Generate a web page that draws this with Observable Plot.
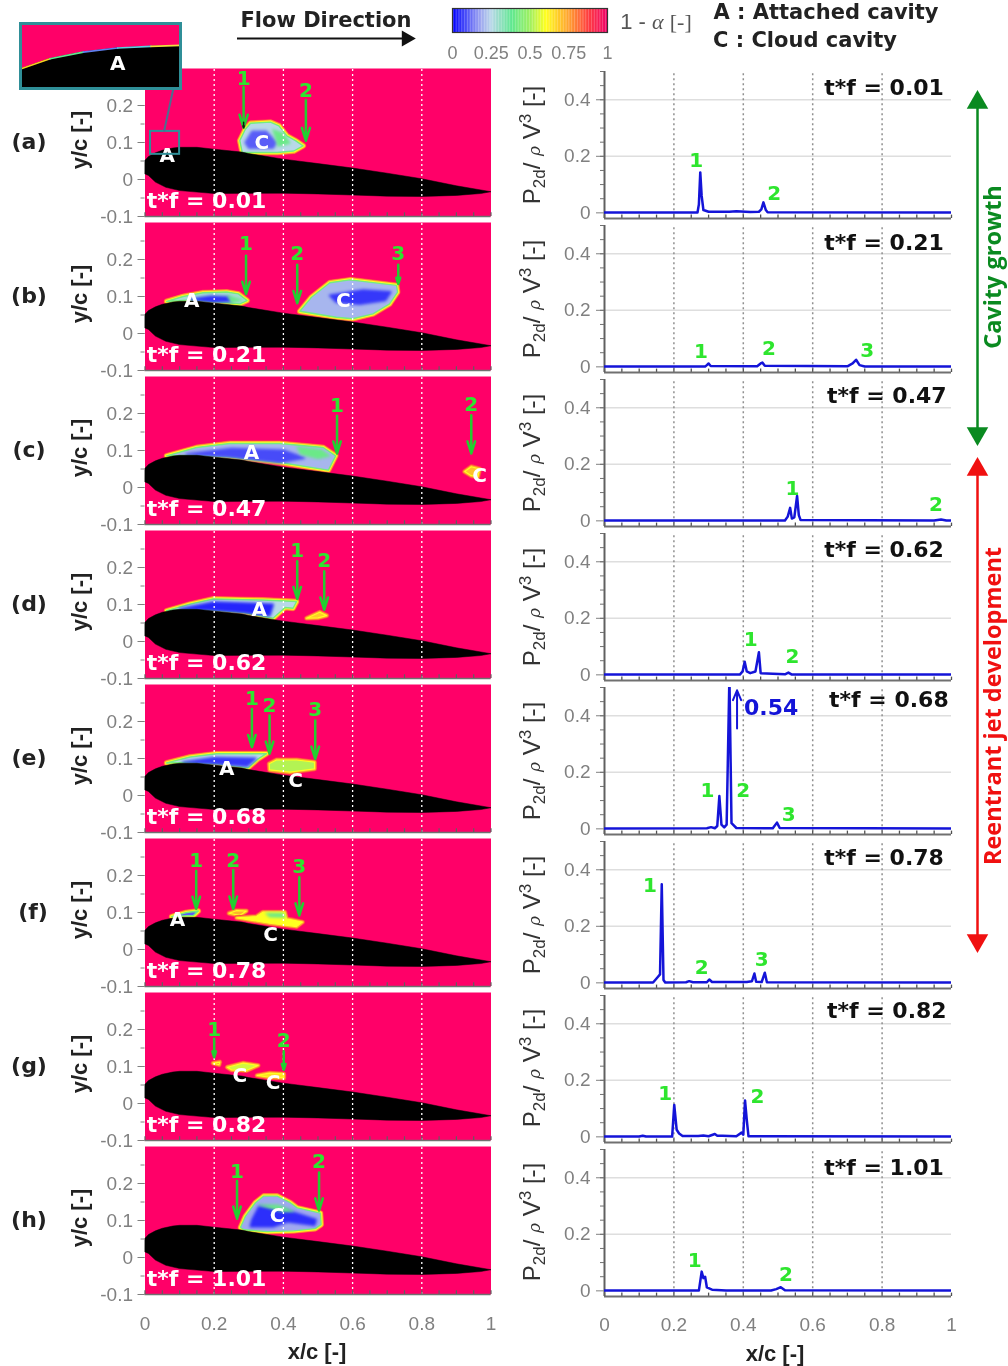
<!DOCTYPE html>
<html><head><meta charset="utf-8">
<script src="https://cdn.jsdelivr.net/npm/d3@7"></script>
<script src="https://cdn.jsdelivr.net/npm/@observablehq/plot@0.6"></script>
<style>
html,body{margin:0;padding:0;background:#fff}
#page{position:relative;width:1008px;height:1366px;overflow:hidden;background:#fff;filter:blur(.35px)}
#page svg{position:absolute;background:transparent;overflow:visible}
.t{position:absolute;white-space:nowrap;line-height:1}
</style></head><body><div id="page"></div>
<script>
const panelIds=["(a)","(b)","(c)","(d)","(e)","(f)","(g)","(h)"];
const timeLabels=["t*f = 0.01","t*f = 0.21","t*f = 0.47","t*f = 0.62","t*f = 0.68","t*f = 0.78","t*f = 0.82","t*f = 1.01"];
const xTicks=[0,.2,.4,.6,.8,1];
const alphaStops=[0,.18,.25,.38,.5,.6,.75,.87,1];
const alphaColors=["#0000ff","#a0a8f0","#b8d8e8","#60e890","#a0f060","#ffff20","#ffa030","#ff4040","#f00068"];

const airfoil=[[0,.052],[.01,.062],[.03,.072],[.05,.079],[.08,.085],[.1,.087],[.15,.087],[.2,.082],[.28,.074],[.3,.07],[.4,.055],[.5,.043],[.6,.031],[.7,.017],[.8,.002],[.9,-.017],[1,-.033],[.97,-.038],[.9,-.043],[.8,-.046],[.7,-.045],[.6,-.042],[.5,-.039],[.4,-.037],[.2,-.038],[.1,-.03],[.06,-.021],[.03,-.007],[.01,.011],[0,.015]];

const cavCa=[[.274,.105],[.29,.136],[.305,.152],[.3625,.155],[.387,.145],[.41,.118],[.435,.105],[.457,.091],[.43,.077],[.382,.073],[.281,.073]];
const coreCa=[[.29,.1],[.31,.13],[.35,.13],[.38,.1],[.37,.085],[.3,.085]];
const cavAb=[[.0625,.0865],[.11,.1],[.168,.11],[.236,.112],[.27,.107],[.295,.089],[.274,.08],[.197,.0865],[.13,.091]];
const coreAb=[[.13,.092],[.19,.1],[.24,.098],[.25,.088],[.197,.086]];
const cavCb=[[.4475,.06],[.481,.098],[.534,.137],[.592,.145],[.727,.13],[.73,.112],[.707,.08],[.659,.053],[.6,.04],[.553,.044]];
const coreCb=[[.534,.103],[.63,.117],[.71,.112],[.695,.09],[.62,.08],[.553,.085]];
const cavAc=[[.0625,.0856],[.149,.108],[.245,.119],[.39,.119],[.515,.108],[.551,.0856],[.53,.047],[.39,.0676],[.245,.083],[.149,.087]];
const coreAc=[[.12,.09],[.25,.105],[.4,.1],[.46,.08],[.39,.068],[.245,.083]];
const cavCc=[[.924,.043],[.943,.056],[.967,.05],[.962,.029],[.943,.032]];
const cavAd=[[.0625,.083],[.13,.101],[.197,.115],[.34,.112],[.438,.108],[.428,.09],[.405,.092],[.37,.063],[.284,.079],[.197,.085],[.13,.088]];
const coreAd=[[.1,.088],[.2,.106],[.37,.1],[.36,.07],[.284,.079],[.197,.085]];
const cavCd=[[.467,.063],[.505,.079],[.525,.07],[.5,.064]];
const cavAe=[[.0625,.088],[.13,.104],[.207,.113],[.351,.113],[.327,.099],[.298,.075],[.207,.086],[.13,.09]];
const coreAe=[[.11,.09],[.2,.102],[.32,.1],[.295,.08],[.207,.086]];
const cavCe=[[.359,.086],[.38,.096],[.438,.096],[.49,.09],[.49,.072],[.419,.063],[.36,.069]];
const cavAf=[[.077,.089],[.12,.1],[.154,.104],[.14,.092]];
const cavSf=[[.243,.098],[.265,.105],[.293,.104],[.274,.092]];
const cavCf=[[.265,.0856],[.322,.089],[.341,.101],[.404,.101],[.409,.083],[.455,.074],[.438,.062],[.36,.071]];
const cavTg=[[.197,.109],[.216,.112],[.214,.105]];
const cavCg=[[.238,.098],[.284,.109],[.327,.103],[.293,.089],[.25,.091]];
const cavDg=[[.324,.076],[.36,.082],[.401,.08],[.401,.069],[.36,.071]];
const cavCh=[[.276,.081],[.29,.111],[.319,.148],[.343,.166],[.382,.166],[.42,.148],[.44,.134],[.507,.12],[.509,.089],[.492,.078],[.43,.072],[.353,.07],[.286,.075]];
const coreCh=[[.31,.102],[.33,.138],[.403,.129],[.494,.102],[.49,.088],[.411,.097],[.372,.084],[.305,.084]];
const patchGreenA=[[.37,.135],[.4,.125],[.42,.098],[.385,.09]];
const patchGreenB=[[.24,.102],[.28,.09],[.25,.084]];
const patchGreenC=[[.44,.11],[.51,.102],[.535,.085],[.5,.078],[.45,.09]];
const patchGreenH=[[.33,.142],[.385,.142],[.43,.125],[.4,.124]];
const patchGreenF=[[.35,.098],[.4,.098],[.405,.087],[.36,.088]];

// [outline, 1-alpha of the body, core outline, 1-alpha of the core]
const panelCavities=[
 [[cavCa,.25,coreCa,.1]],
 [[cavAb,.28,coreAb,.05],[cavCb,.2,coreCb,.06]],
 [[cavAc,.2,coreAc,.08],[cavCc,.7,null,0]],
 [[cavAd,.25,coreAd,.04],[cavCd,.68,null,0]],
 [[cavAe,.25,coreAe,.06],[cavCe,.52,null,0]],
 [[cavAf,.1,null,0],[cavSf,.72,null,0],[cavCf,.6,null,0]],
 [[cavTg,.8,null,0],[cavCg,.55,null,0],[cavDg,.65,null,0]],
 [[cavCh,.18,coreCh,.05]]
];
const panelPatches=[[patchGreenA],[patchGreenB],[patchGreenC],[],[],[patchGreenF],[],[patchGreenH]];
// arrows: x, y from, y to, label y, label
const panelArrows=[
 [[.285,.25,.14,.273,"1"],[.465,.214,.105,.241,"2"]],
 [[.292,.21,.107,.242,"1"],[.44,.186,.082,.215,"2"],[.732,.186,.134,.215,"3"]],
 [[.555,.194,.092,.222,"1"],[.943,.195,.092,.225,"2"]],
 [[.44,.217,.115,.246,"1"],[.518,.19,.086,.219,"2"]],
 [[.309,.234,.131,.261,"1"],[.36,.216,.113,.243,"2"],[.492,.203,.099,.232,"3"]],
 [[.148,.212,.11,.24,"1"],[.255,.214,.11,.24,"2"],[.446,.195,.092,.224,"3"]],
 [[.2,.175,.125,.199,"1"],[.401,.141,.091,.17,"2"]],
 [[.266,.207,.105,.233,"1"],[.503,.23,.127,.26,"2"]]
];
const panelNames=[
 [[.064,.064,"A"],[.338,.1,"C"]],
 [[.135,.089,"A"],[.573,.089,"C"]],
 [[.308,.093,"A"],[.967,.032,"C"]],
 [[.33,.085,"A"]],
 [[.236,.072,"A"],[.435,.04,"C"]],
 [[.094,.08,"A"],[.363,.04,"C"]],
 [[.274,.076,"C"],[.37,.056,"C"]],
 [[.382,.114,"C"]]
];
const powerA=[[0,.001],[.268,.001],[.272,.03],[.276,.143],[.28,.06],[.285,.01],[.3,.004],[.36,.004],[.38,.006],[.42,.003],[.445,.004],[.452,.012],[.458,.037],[.465,.01],[.47,.002],[1,.001]];
const powerB=[[0,.001],[.29,.001],[.295,.006],[.3,.012],[.306,.003],[.44,.002],[.45,.012],[.455,.015],[.462,.004],[.7,.002],[.715,.012],[.725,.025],[.735,.006],[.75,.001],[1,.001]];
const powerC=[[0,.001],[.52,.001],[.528,.015],[.535,.046],[.54,.008],[.547,.012],[.555,.088],[.56,.02],[.565,.003],[.95,.001],[.97,.005],[.985,.001],[1,.001]];
const powerD=[[0,.001],[.39,.001],[.398,.012],[.404,.046],[.41,.012],[.42,.006],[.435,.012],[.445,.08],[.45,.006],[.52,.002],[.53,.008],[.54,.001],[1,.001]];
const powerE=[[0,.001],[.295,.002],[.307,.006],[.318,.002],[.325,.01],[.331,.116],[.337,.015],[.345,.005],[.352,.015],[.36,.54],[.366,.02],[.38,.003],[.485,.002],[.497,.022],[.505,.003],[1,.001]];
const powerF=[[0,.001],[.14,.001],[.153,.02],[.16,.03],[.165,.349],[.17,.01],[.175,.001],[.235,.002],[.244,.006],[.255,.002],[.295,.002],[.302,.012],[.31,.003],[.41,.003],[.425,.006],[.432,.033],[.437,.004],[.453,.003],[.462,.036],[.468,.002],[1,.001]];
const powerG=[[0,.001],[.1,.001],[.11,.004],[.12,.001],[.195,.001],[.201,.113],[.208,.025],[.215,.012],[.225,.003],[.27,.003],[.285,.005],[.3,.002],[.318,.01],[.325,.004],[.34,.004],[.38,.002],[.395,.015],[.4,.008],[.405,.129],[.41,.06],[.415,.002],[1,.001]];
const powerH=[[0,.001],[.272,.001],[.28,.068],[.285,.045],[.29,.05],[.295,.012],[.31,.004],[.35,.001],[.48,.001],[.495,.006],[.508,.013],[.52,.002],[1,.001]];
const powerSeries=[powerA,powerB,powerC,powerD,powerE,powerF,powerG,powerH];
const powerLabels=[
 [[.264,.185,"1"],[.489,.067,"2"]],
 [[.278,.053,"1"],[.474,.064,"2"],[.757,.057,"3"]],
 [[.542,.113,"1"],[.955,.057,"2"]],
 [[.421,.124,"1"],[.542,.064,"2"]],
 [[.297,.136,"1"],[.4,.136,"2"],[.531,.052,"3"]],
 [[.131,.343,"1"],[.28,.053,"2"],[.453,.083,"3"]],
 [[.175,.154,"1"],[.441,.142,"2"]],
 [[.26,.108,"1"],[.523,.059,"2"]]
];
const timeLabelY=[.443,.44,.443,.443,.456,.443,.446,.435];
const timeLabelX=[.978,.978,.986,.978,.992,.978,.986,.978];
const insetCurve=[[.016,.0866],[.0315,.0963],[.049,.1027],[.067,.1066],[.0845,.1082],[.1,.1091]];
const insetColors=["#f5d020","#60e890","#6080f0","#60d0e0","#f0e040","#ff7030"];

const PINK="#ff0068", GREEN="#22cf30", LIME="#2ee52e";
const SANS='"Liberation Sans",Arial,sans-serif', DJ='"DejaVu Sans",sans-serif';
const cmap=d3.scaleLinear().domain(alphaStops).range(alphaColors);
const page=document.getElementById("page");
const px=d=>d[0], py=d=>d[1];

function add(svg,left,top){svg.style.left=left+"px";svg.style.top=top+"px";page.appendChild(svg);}
function text(html,x,y,o={}){
  const d=document.createElement("div");d.className="t";d.innerHTML=html;
  d.style.cssText+=`left:${x}px;top:${y}px;font:${o.weight||"bold"} ${o.size||20}px ${o.font||DJ};color:${o.color||"#111"};transform:translate(-50%,-50%) rotate(${o.rotate||0}deg);`;
  page.appendChild(d);
}
function poly(points,value,width,extra={}){
  return Plot.line(points,{x:px,y:py,curve:"linear-closed",stroke:cmap(value),strokeWidth:width,...extra});
}
function cavityMarks([outline,body,core,coreValue]){
  const filter={imageFilter:"blur(0.6px)"};
  const hot=body>.45;
  const ms=hot
    ?[poly(outline,.86,5,filter),poly(outline,.75,3.4,{fill:cmap(.75),...filter}),poly(outline,.6,1.2,{fill:cmap(body),...filter})]
    :[poly(outline,.86,6,filter),poly(outline,.75,5,filter),poly(outline,.6,3.2,filter),poly(outline,.42,1.4,{fill:cmap(body),...filter})];
  if(core) ms.push(poly(core,coreValue,2,{fill:cmap(coreValue),imageFilter:"blur(1.5px)"}));
  return ms;
}

function leftPanel(i){
  const last=i===7;
  const marks=[
    Plot.frame({fill:PINK,stroke:null}),
    ...panelCavities[i].flatMap(cavityMarks),
    ...panelPatches[i].map(q=>poly(q,.4,1,{fill:cmap(.4),imageFilter:"blur(1.5px)"})),
    Plot.line(airfoil,{x:px,y:py,curve:"linear-closed",fill:"black",stroke:"black",strokeWidth:.5}),
    Plot.ruleX([.2,.4,.6,.8],{y1:-.1,y2:.3,stroke:"white",strokeWidth:1.3,strokeDasharray:"2,3"}),
    Plot.ruleY([-.1],{stroke:"#707070",strokeWidth:1.5}),
    Plot.ruleX(d3.range(0,21).map(k=>k/20),{y1:-.1,y2:-.09,stroke:"#606060",strokeWidth:1.2}),
    Plot.axisY([.2,.1,0,-.1],{tickSize:7,tickPadding:5,tickFormat:String,color:"#808080",label:null,fontSize:19}),
    Plot.axisY(d3.range(-2,6).map(k=>k/20),{tickSize:4,tickFormat:()=>"",color:"#808080",label:null}),
    Plot.arrow(panelArrows[i],{x1:px,x2:px,y1:d=>d[1],y2:d=>d[2],stroke:GREEN,strokeWidth:2.5,headLength:9,headAngle:35}),
    Plot.text(panelArrows[i],{x:px,y:d=>d[3],text:d=>d[4],fill:LIME,fontWeight:"bold",fontFamily:DJ,fontSize:20}),
    Plot.text(panelNames[i],{x:px,y:py,text:d=>d[2],fill:"white",fontWeight:"bold",fontFamily:DJ,fontSize:20}),
    Plot.text([timeLabels[i]],{x:.005,y:-.059,text:d=>d,textAnchor:"start",fill:"white",fontWeight:"bold",fontFamily:DJ,fontSize:22})
  ];
  if(i===0){
    marks.push(Plot.rect([[.016,.13]],{x1:.016,x2:.1,y1:.068,y2:.13,stroke:"#2f8f98",strokeWidth:2,fill:"none"}));
    marks.push(Plot.link([[.055,.13]],{x1:.055,x2:.082,y1:.13,y2:.246,stroke:"#4a7090",strokeWidth:2}));
    marks.push(Plot.arrow([[.285,.155,.14]],{x1:px,x2:px,y1:d=>d[1],y2:d=>d[2],stroke:"#111",strokeWidth:1.5,headLength:8,headAngle:40}));
  }
  if(last) marks.push(Plot.axisX(xTicks,{tickSize:0,tickPadding:22,tickFormat:String,color:"#808080",label:null,fontSize:19}));
  const p=Plot.plot({width:406,height:188,marginLeft:50.5,marginRight:9.5,marginTop:0,marginBottom:40,
    style:{fontSize:"19px",fontFamily:SANS,background:"transparent",overflow:"visible"},
    x:{domain:[0,1],...(last?{}:{axis:null})},y:{domain:[-.1,.3]},marks});
  add(p,94,68.2+154*i-(i===7?.6:0));
}

function rightPanel(i){
  const last=i===7;
  const marks=[
    Plot.ruleY([.2,.4],{stroke:"#dedede",strokeWidth:1.5}),
    Plot.ruleX([.2,.4,.6,.8],{y1:-.01,y2:.5,stroke:"#909090",strokeWidth:1.5,strokeDasharray:"2,3"}),
    Plot.ruleX(d3.range(0,21).map(k=>k/20),{y1:-.02,y2:-.008,stroke:"#505050",strokeWidth:1.3}),
    Plot.ruleY([-.02],{stroke:"#707070",strokeWidth:2}),
    Plot.ruleX([0],{y1:-.02,y2:.5,stroke:"#606060",strokeWidth:2}),
    Plot.axisY([0,.2,.4],{tickSize:8,tickPadding:6,tickFormat:String,color:"#808080",label:null,fontSize:19}),
    Plot.axisY(d3.range(1,11).map(k=>k/20),{tickSize:4,tickFormat:()=>"",color:"#707070",label:null}),
    Plot.line(powerSeries[i],{x:px,y:py,stroke:"#1414d8",strokeWidth:2.5,clip:true}),
    Plot.text(powerLabels[i],{x:px,y:py,text:d=>d[2],fill:LIME,fontWeight:"bold",fontFamily:DJ,fontSize:20}),
    Plot.text([timeLabels[i]],{x:timeLabelX[i],y:timeLabelY[i],text:d=>d,textAnchor:"end",fill:"#111",fontWeight:"bold",fontFamily:DJ,fontSize:22})
  ];
  if(i===4){
    marks.push(Plot.arrow([0],{x1:.382,x2:.382,y1:.355,y2:.49,stroke:"#1414d8",strokeWidth:2,headLength:8,headAngle:45}));
    marks.push(Plot.text(["0.54"],{x:.402,y:.428,text:d=>d,textAnchor:"start",fill:"#1414d8",fontWeight:"bold",fontFamily:DJ,fontSize:22}));
  }
  if(last) marks.push(Plot.axisX(xTicks,{tickSize:0,tickPadding:21,tickFormat:String,color:"#808080",label:null,fontSize:19}));
  const p=Plot.plot({width:415,height:187,marginLeft:60,marginRight:8,marginTop:0,marginBottom:40,
    style:{fontSize:"19px",fontFamily:SANS,background:"transparent",overflow:"visible"},
    x:{domain:[0,1],...(last?{}:{axis:null})},y:{domain:[-.02,.5]},marks});
  add(p,543.7,71.2+153.9*i);
  const yc=145+153.9*i;
  text('P<sub style="font-size:17px">2d</sub>/ <i style="font-family:\'DejaVu Serif\',serif;font-size:17px">ρ</i> V<sup style="font-size:17px">3</sup> [-]',533,yc,{weight:"normal",font:SANS,size:24,color:"#333",rotate:-90});
}

panelIds.forEach((id,i)=>{
  leftPanel(i);rightPanel(i);
  text(id,i===5?33:29,141+154*i,{size:22,color:"#222"});
  text("y/c [-]",80,140+154*i,{size:22,font:SANS,rotate:-90,color:"#222"});
});
text("x/c [-]",317,1352,{size:22,font:SANS,color:"#222"});
text("x/c [-]",775,1354,{size:22,font:SANS,color:"#222"});

// inset
add(Plot.plot({width:160,height:65,margin:0,x:{domain:[.016,.1],axis:null},y:{domain:[.068,.13],axis:null},
  marks:[Plot.frame({fill:PINK,stroke:null}),
    Plot.areaY(insetCurve,{x:px,y1:.068,y2:py,fill:"black"}),
    Plot.line(insetCurve.map((d,k)=>[...d,insetColors[k]]),{x:px,y:py,stroke:d=>d[2],z:null,strokeWidth:1.6}),
    Plot.text(["A"],{x:.067,y:.0918,text:d=>d,fill:"white",fontWeight:"bold",fontFamily:DJ,fontSize:20}),
    Plot.frame({stroke:"#2f8f98",strokeWidth:3})],
  style:{background:"transparent"}}),20,23);

// colour bar
const barSteps=d3.range(0,100).map(k=>k/100);
add(Plot.plot({width:155,height:70,marginLeft:0,marginRight:0,marginTop:0,marginBottom:46,
  style:{fontSize:"19px",fontFamily:SANS,background:"transparent",overflow:"visible"},
  x:{domain:[0,1]},y:{domain:[0,1],axis:null},
  color:{type:"linear",domain:alphaStops,range:alphaColors},
  marks:[Plot.rect(barSteps,{x1:d=>d,x2:d=>d+.0105,y1:0,y2:1,fill:d=>d}),
    Plot.frame({stroke:"#333",strokeWidth:1.2}),
    Plot.axisX([0,.25,.5,.75,1],{tickSize:0,tickPadding:14,tickFormat:String,color:"#808080",label:null,fontSize:18})]}),452,8);
text('1 - <i style="font-family:\'Liberation Serif\',serif">α</i> <span style="font-family:\'Liberation Serif\',serif">[-]</span>',656,22,{weight:"normal",font:SANS,size:22,color:"#555"});
text("Flow Direction",326,20,{size:21,color:"#222"});
text("A : Attached cavity",826,12,{size:21,color:"#222"});
text("C : Cloud cavity",805,40,{size:21,color:"#222"});
text("Cavity growth",991.5,267,{size:23.5,font:'"Open Sans",sans-serif',color:"#0a8a20",rotate:-90});
text("Reentrant jet development",991.5,706,{size:23.5,font:'"Open Sans",sans-serif',color:"#f01010",rotate:-90});

// page-level arrows
const growthSpan=[95,440], jetSpan=[462,947], flowSpan=[237,412];
add(Plot.plot({width:1008,height:1366,margin:0,x:{domain:[0,1008],axis:null},y:{domain:[1366,0],axis:null},
  style:{background:"transparent"},
  marks:[
    Plot.ruleX([977],{y1:growthSpan[0]+8,y2:growthSpan[1]-8,stroke:"#0a8a20",strokeWidth:2.5}),
    Plot.dot([[977,growthSpan[0]+7,0],[977,growthSpan[1]-7,180]],{x:px,y:py,rotate:d=>d[2],symbol:"triangle",r:8,fill:"#0a8a20"}),
    Plot.ruleX([977],{y1:jetSpan[0]+8,y2:jetSpan[1]-8,stroke:"#f01010",strokeWidth:2.5}),
    Plot.dot([[977,jetSpan[0]+7,0],[977,jetSpan[1]-7,180]],{x:px,y:py,rotate:d=>d[2],symbol:"triangle",r:8,fill:"#f01010"}),
    Plot.ruleY([38],{x1:flowSpan[0],x2:flowSpan[1]-6,stroke:"#111",strokeWidth:2}),
    Plot.dot([[flowSpan[1]-6,38,90]],{x:px,y:py,rotate:d=>d[2],symbol:"triangle",r:6,fill:"#111"})
  ]}),0,0);
</script></body></html>
